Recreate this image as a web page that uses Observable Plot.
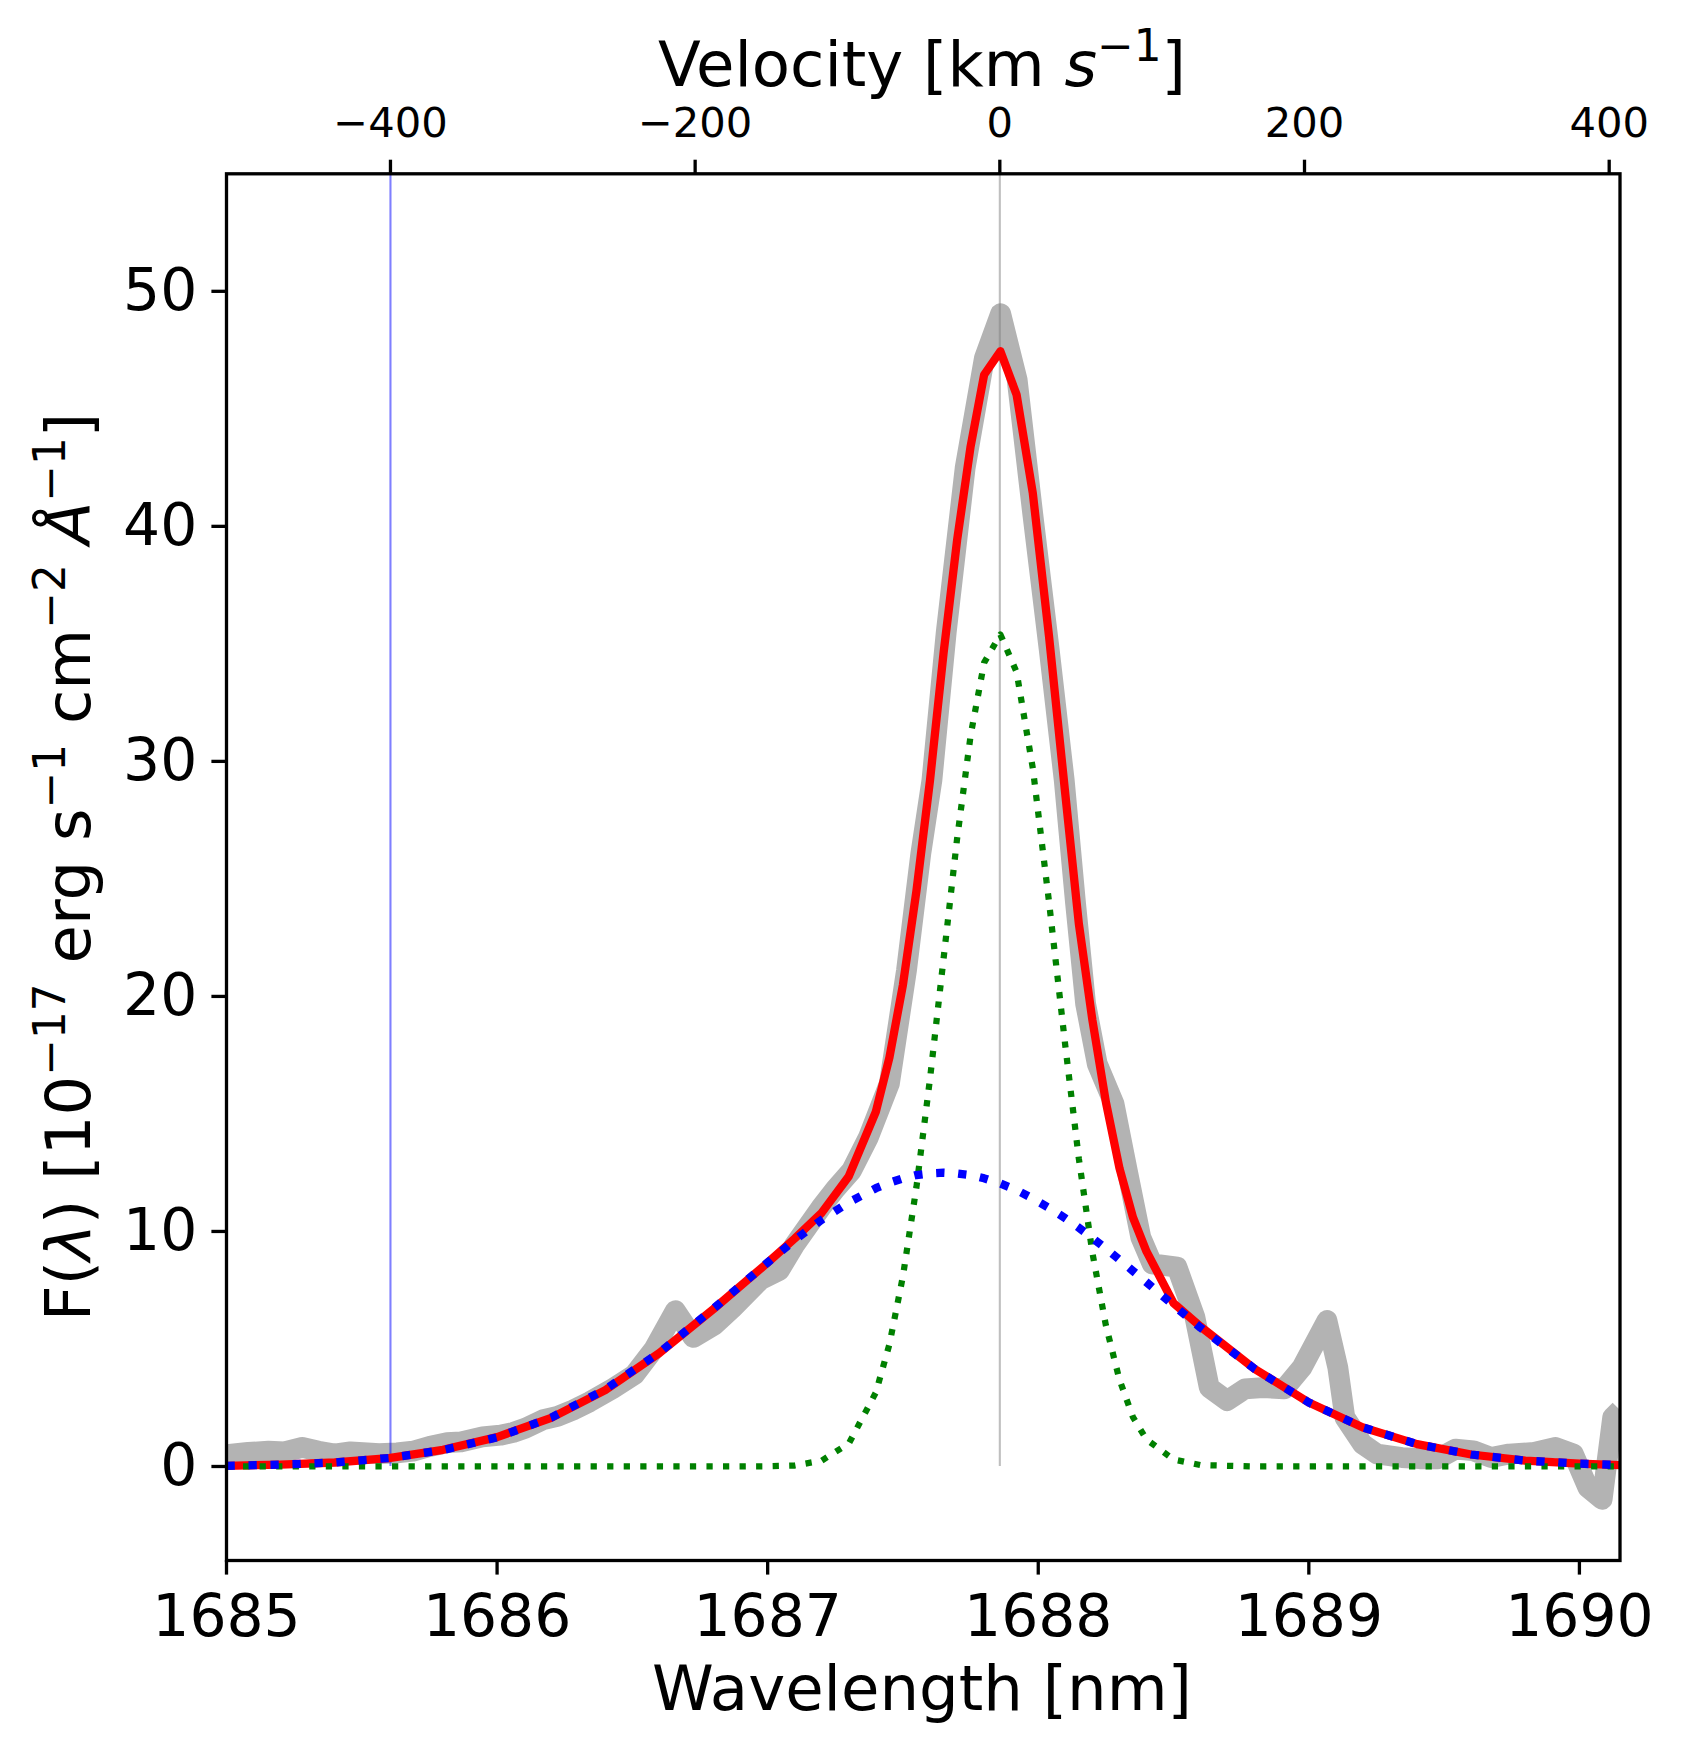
<!DOCTYPE html>
<html><head><meta charset="utf-8">
<script src="https://cdn.jsdelivr.net/npm/d3@7"></script>
<script src="https://cdn.jsdelivr.net/npm/@observablehq/plot@0.6"></script>
<style>body{margin:0;background:#fff} svg{font-family:"DejaVu Sans"}</style>
</head><body><div id="chart"></div>
<script>
// ---- data ----
const restWave = 1687.858;      // nm, velocity zero
const cLight = 299792.458;      // km/s
const markerVel = -400;         // km/s, thin blue marker line
const xTicks = [1685, 1686, 1687, 1688, 1689, 1690];
const yTicks = [0, 10, 20, 30, 40, 50];
const velTicks = [-400, -200, 0, 200, 400];

// observed spectrum (thick gray)
const dataWave = [1685.00,1685.08,1685.155,1685.214,1685.28,1685.34,1685.399,1685.458,1685.52,1685.564,
  1685.63,1685.689,1685.75,1685.815,1685.867,1685.946,1686.012,1686.06,1686.105,1686.171,1686.223,
  1686.28,1686.342,1686.428,1686.507,1686.58,1686.659,1686.725,1686.804,1686.87,1686.974,1687.043,
  1687.098,1687.196,1687.25,1687.31,1687.372,1687.45,1687.513,1687.566,1687.607,1687.66,1687.73,
  1687.801,1687.861,1687.922,1687.98,1688.04,1688.096,1688.138,1688.175,1688.218,1688.28,1688.329,
  1688.379,1688.421,1688.513,1688.579,1688.632,1688.698,1688.764,1688.83,1688.909,1688.975,1689.067,
  1689.107,1689.133,1689.199,1689.252,1689.344,1689.41,1689.476,1689.542,1689.608,1689.674,1689.74,
  1689.833,1689.912,1689.978,1690.031,1690.084,1690.123,1690.15];
const dataFlux = [0.50,0.60,0.65,0.62,0.81,0.65,0.53,0.62,0.58,0.55,
  0.58,0.65,0.85,1.01,1.05,1.26,1.33,1.45,1.63,1.99,2.13,
  2.40,2.75,3.32,3.90,5.00,6.63,5.49,6.03,6.74,7.95,8.34,
  9.40,11.00,11.80,12.59,14.00,16.30,21.10,26.08,29.20,35.50,42.50,
  47.16,49.05,46.24,40.50,34.80,29.20,23.95,19.69,17.13,15.43,12.59,
  9.75,8.62,8.48,6.35,3.36,2.80,3.30,3.36,3.30,4.22,6.21,
  4.22,2.09,0.95,0.53,0.38,0.33,0.32,0.74,0.67,0.38,0.53,
  0.60,0.81,0.53,-0.89,-1.40,2.09,2.40];

// model grid and components
const modelWave = [1685.0,1685.2,1685.4,1685.6,1685.8,1686.0,1686.2,1686.4,1686.6,1686.8,1687.0,1687.1,
  1687.2,1687.3,1687.4,1687.45,1687.5,1687.55,1687.6,1687.65,1687.7,1687.75,1687.8,1687.86,1687.92,
  1687.98,1688.04,1688.1,1688.15,1688.2,1688.25,1688.3,1688.35,1688.4,1688.5,1688.6,1688.8,1689.0,
  1689.2,1689.4,1689.6,1689.8,1690.0,1690.15];
const totalFlux = [0.03,0.08,0.17,0.36,0.71,1.25,2.07,3.25,4.83,6.70,8.67,9.70,
  10.80,12.35,15.10,17.40,20.50,24.50,29.20,34.60,39.40,43.40,46.45,47.45,45.60,
  41.40,35.30,28.60,23.10,19.00,15.50,12.70,10.60,9.15,6.95,5.95,4.15,2.72,
  1.66,0.95,0.51,0.25,0.12,0.06];
const broadFlux = [0.03,0.08,0.17,0.36,0.70,1.24,2.08,3.28,4.85,6.72,8.68,9.63,
  10.50,11.24,11.84,12.07,12.26,12.40,12.47,12.50,12.47,12.40,12.26,12.04,11.76,
  11.40,11.00,10.56,10.16,9.72,9.27,8.80,8.32,7.84,6.86,5.90,4.15,2.72,
  1.66,0.95,0.51,0.25,0.12,0.06];
const narrowFlux = [0,0,0,0,0,0,0,0,0,0,0.01,0.04,
  0.25,0.98,3.15,5.20,8.10,11.90,16.50,21.60,26.70,31.10,34.20,35.40,33.80,
  29.70,24.00,17.90,13.10,9.10,6.00,3.70,2.10,1.15,0.30,0.06,0,0,
  0,0,0,0,0,0];

// ---- tables ----
const observed = dataWave.map((w, i) => ({w, f: dataFlux[i]}));
const model = modelWave.map((w, i) => ({w, total: totalFlux[i], broad: broadFlux[i], narrow: narrowFlux[i]}));
const toWave = v => restWave * (1 + v / cLight);
const velTickWaves = velTicks.map(toWave);
const velLabel = new Map(velTickWaves.map((w, i) => [w, String(velTicks[i]).replace("-", "\u2212")]));
const markerWave = toWave(markerVel);

const W = 1683, H = 1753;
const chart = Plot.plot({
  width: W, height: H,
  marginLeft: 226, marginRight: 63.5, marginTop: 173.3, marginBottom: 193,
  style: {fontFamily: "DejaVu Sans", background: "white", color: "black", overflow: "visible"},
  x: {domain: [1685, 1690.15]},
  y: {domain: [-4, 55]},
  marks: [
    Plot.line(observed, {x: "w", y: "f", stroke: "#b3b3b3", strokeWidth: 20.8, strokeLinejoin: "round", strokeLinecap: "butt", clip: true}),
    Plot.ruleX([restWave], {y1: 0, y2: 55, stroke: "gray", strokeOpacity: 0.5, strokeWidth: 2.1}),
    Plot.ruleX([markerWave], {y1: 0, y2: 55, stroke: "blue", strokeOpacity: 0.5, strokeWidth: 2.1}),
    Plot.line(model, {x: "w", y: "total", stroke: "#ff0000", strokeWidth: 8.3, strokeLinejoin: "round", clip: true}),
    Plot.line(model, {x: "w", y: "narrow", stroke: "#008000", strokeWidth: 6.25, strokeDasharray: "6.25,10.3", strokeLinecap: "butt", clip: true}),
    Plot.line(model, {x: "w", y: "broad", stroke: "#0000ff", strokeWidth: 8.3, strokeDasharray: "8.3,13.7", strokeLinecap: "butt", clip: true}),
    Plot.frame({stroke: "black", strokeWidth: 3.3}),
    Plot.axisX(xTicks, {anchor: "bottom", tickSize: 14.6, tickPadding: 19, fontSize: 58.3, strokeWidth: 3.3, tickFormat: d => String(d), label: null}),
    Plot.axisY(yTicks, {anchor: "left", tickSize: 14.6, tickPadding: 14.6, fontSize: 58.3, strokeWidth: 3.3, tickFormat: d => String(d), label: null}),
    Plot.axisX(velTickWaves, {anchor: "top", tickSize: 14.6, tickPadding: 22.7, fontSize: 41.7, strokeWidth: 3.3, tickFormat: d => velLabel.get(d), label: null})
  ]
});

// ---- axis titles with math-style superscripts ----
const svg = d3.select(chart);
const FS = 62.5, SUP = 43.75, RAISE = 25;
function addRich(parent, parts) {
  let up = 0;
  for (const p of parts) {
    const t = parent.append("tspan").text(p.t);
    const want = p.sup ? RAISE : 0;
    if (want !== up) { t.attr("dy", up - want); up = want; }
    if (p.sup) t.attr("font-size", SUP);
    if (p.it) t.attr("font-style", "italic");
  }
}
svg.append("text").attr("x", 922).attr("y", 1710).attr("text-anchor", "middle")
  .attr("font-size", FS).attr("fill", "black").text("Wavelength [nm]");
const topLabel = svg.append("text").attr("x", 922).attr("y", 86).attr("text-anchor", "middle")
  .attr("font-size", FS).attr("fill", "black");
addRich(topLabel, [{t: "Velocity [km "}, {t: "s", it: true}, {t: "\u22121", sup: true}, {t: "]"}]);
const yLabel = svg.append("text").attr("x", 0).attr("y", 0).attr("text-anchor", "middle")
  .attr("font-size", FS).attr("fill", "black")
  .attr("transform", "translate(89.5,867) rotate(-90)");
addRich(yLabel, [{t: "F("}, {t: "\u03bb", it: true}, {t: ") [10"}, {t: "\u221217", sup: true},
  {t: " erg s"}, {t: "\u22121", sup: true}, {t: " cm"}, {t: "\u22122", sup: true}, {t: " "},
  {t: "\u00c5", it: true}, {t: "\u22121", sup: true}, {t: "]"}]);

document.getElementById("chart").appendChild(chart);
</script>
</body></html>
